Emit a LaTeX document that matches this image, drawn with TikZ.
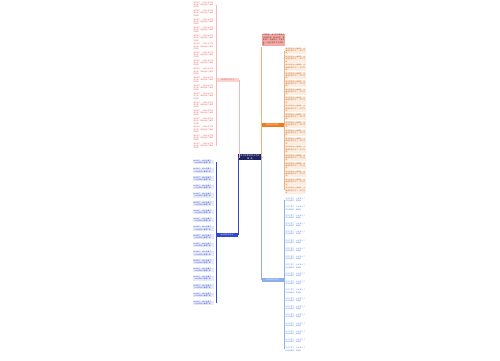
\documentclass[tikz,border=0pt]{standalone}
\usepackage{fontspec}
\newfontfamily\cjk{Noto Sans CJK SC}
\XeTeXlinebreaklocale "zh"
\XeTeXlinebreakskip=0pt plus 0.5pt
\definecolor{rootc}{HTML}{1E2460}
\definecolor{pinkc}{HTML}{E8605F}
\definecolor{pinkf}{HTML}{FAD4D2}
\definecolor{pinkl}{HTML}{F4B9B7}
\definecolor{orangec}{HTML}{F07B1E}
\definecolor{orangef}{HTML}{FDEEE2}
\definecolor{orangel}{HTML}{F5B07A}
\definecolor{bluec}{HTML}{3346D0}
\definecolor{bluef}{HTML}{E6EBFA}
\definecolor{lbluec}{HTML}{8DB0EA}
\definecolor{lbluet}{HTML}{5B85D8}
\definecolor{notef}{HTML}{F3ABA5}
\tikzset{
  root/.style={fill=rootc,text=white,inner sep=0.6pt,text width=22pt,align=center,
    font=\cjk\fontsize{2}{2.6}\selectfont},
  branch/.style={inner sep=0.5pt,minimum width=22pt,minimum height=4.5pt,align=center,
    font=\cjk\fontsize{1.8}{2.2}\selectfont},
  leaf/.style={inner sep=0.4pt,text width=20pt,align=left,
    font=\cjk\fontsize{1.7}{2.2}\selectfont},
  wire/.style={line width=0.4pt}
}
\newcommand\pinktxt{春天来了，小草从地下探出头来，柳树抽出了嫩绿的枝条。}
\newcommand\orangetxt{夏天的阳光火辣辣的，池塘里的荷花开了，知了在叫。}
\newcommand\bluetxt{秋天到了，树叶变黄了，一片片从树上飘落下来。}
\newcommand\lbluetxt{冬天下雪了，大地穿上了白色的棉衣，真美丽。}
\begin{document}
\begin{tikzpicture}[x=1pt,y=-1pt]
\useasboundingbox[fill=white] (0,0) rectangle (500,360);
% main topic and branches
\node[root] (R) at (250,157) {关于四季的作文范文\\精选};
\node[branch,fill=pinkf,text=pinkc] (P) at (228,80) {春天的作文范文};
\node[branch,fill=orangec,text=white] (O) at (272.5,125) {夏天的作文范文};
\node[branch,fill=bluec,text=white] (B) at (227,235) {秋天的作文范文};
\node[branch,fill=lbluec,text=white] (L) at (272.5,280) {冬天的作文范文};
\node[fill=notef,text=pinkc!50!black,inner sep=0.8pt,text width=22pt,align=left,
  font=\cjk\fontsize{1.8}{2.4}\selectfont] (T) at (273.5,40)
  {四季更替，每个季节都有自己独特的美。春有百花，夏有凉风，秋有明月，冬有白雪，让我们用文字记录四季。};
\coordinate (Pbus) at (216,0);
\coordinate (Bbus) at (216,0);
\coordinate (Obus) at (284,0);
\coordinate (Lbus) at (284,0);
% leaves
\foreach \i in {0,...,17}{
  \node[leaf,text=pinkc,anchor=west] (P\i) at (193,{5+8.3*\i}) {\pinktxt};
  \node[leaf,fill=bluef,text=bluec,anchor=west] (B\i) at (193,{162+8.3*\i}) {\bluetxt};
  \node[leaf,fill=orangef,text=orangec!80!black,anchor=west] (O\i) at (285,{51+8.2*\i}) {\orangetxt};
}
\foreach \i in {0,...,18}{
  \node[leaf,text=lbluet,anchor=west] (L\i) at (285,{200+8.3*\i}) {\lbluetxt};
}
% wires
\draw[wire,pinkl] (R.west) -| (P.east);
\draw[wire,bluec] (R.west) -| (B.east);
\draw[wire,orangel] (R.east) -| (T.south west);
\draw[wire,orangel] (R.east) -| (O.west);
\draw[wire,lbluec] (R.east) -| (L.west);
\draw[wire,pinkl] (Pbus|-P0) -- (Pbus|-P17) (P.west) -- (Pbus|-P.west);
\draw[wire,bluec] (Bbus|-B0) -- (Bbus|-B17) (B.west) -- (Bbus|-B.west);
\draw[wire,orangel] (Obus|-O0) -- (Obus|-O17) (O.east) -- (Obus|-O.east);
\draw[wire,lbluec] (Lbus|-L0) -- (Lbus|-L18) (L.east) -- (Lbus|-L.east);
\end{tikzpicture}
\end{document}
